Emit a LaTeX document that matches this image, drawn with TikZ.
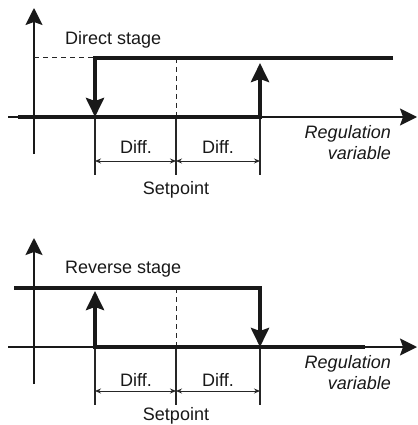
\documentclass[tikz,border=0pt]{standalone}
\usepackage{fontspec}
\setmainfont{Liberation Sans}
\usetikzlibrary{arrows.meta}
\tikzset{
  axisline/.style={line width=1.8pt, draw=black!90, -{Stealth[length=17pt,width=17pt,inset=3pt]}},
  heavy/.style={line width=4pt, draw=black!90, line join=miter},
  heavyarrow/.style={heavy, -{Stealth[length=19pt,width=18pt,inset=3pt]}},
  guide/.style={line width=1pt, draw=black!85, dash pattern=on 5pt off 4pt},
  thinline/.style={line width=1.2pt, draw=black!85},
  dimline/.style={line width=0.9pt, draw=black!85, {Stealth[length=6pt,width=5pt]}-{Stealth[length=6pt,width=5pt]}},
  lbl/.style={inner sep=0pt, font=\fontsize{18pt}{21pt}\selectfont, text=black!90},
  ilbl/.style={lbl, font=\fontsize{18pt}{21pt}\selectfont\itshape, align=right}
}
\begin{document}
\begin{tikzpicture}[x=1pt,y=-1pt]
\useasboundingbox (0,0) rectangle (417,425);
\fill[white] (0,0) rectangle (417,425);
% ---------- Top: direct stage ----------
\coordinate (tyb) at (34,154);
\coordinate (tyt) at (34,8);
\coordinate (txl) at (8,117);
\coordinate (txr) at (417,117);
\coordinate (th0) at (18,117);
\coordinate (tA) at (95,117);
\coordinate (tS) at (176,117);
\coordinate (tB) at (260,117);
\coordinate (tBu) at (260,63);
\coordinate (tAt) at (95,58);
\coordinate (tE) at (393,58);
\coordinate (tYh) at (34,58);
\coordinate (tSt) at (176,58);
\coordinate (tAd) at (95,175);
\coordinate (tSd) at (176,175);
\coordinate (tBd) at (260,175);
\coordinate (tAm) at (95,161);
\coordinate (tSm) at (176,161);
\coordinate (tBm) at (260,161);
\draw[axisline] (tyb) -- (tyt);
\draw[axisline] (txl) -- (txr);
\draw[guide] (tYh) -- (tAt);
\draw[guide] (tSt) -- (tS);
\draw[thinline] (tA) -- (tAd);
\draw[thinline] (tS) -- (tSd);
\draw[thinline] (tB) -- (tBd);
\draw[dimline] (tAm) -- (tSm);
\draw[dimline] (tSm) -- (tBm);
\draw[heavyarrow] (th0) -- (tB) -- (tBu);
\draw[heavyarrow] (tE) -- (tAt) -- (tA);
\node[lbl, anchor=west] (tlab) at (65,40) {Direct stage};
\node[lbl] (tdiff1) at (136,147) {Diff.};
\node[lbl] (tdiff2) at (218,147) {Diff.};
\node[lbl] (tset) at (176,190) {Setpoint};
\node[ilbl, anchor=north east] (treg) at (391,125) {Regulation\\variable};
% ---------- Bottom: reverse stage ----------
\coordinate (byb) at (34,384);
\coordinate (byt) at (34,238);
\coordinate (bxl) at (8,347);
\coordinate (bxr) at (417,347);
\coordinate (bh0) at (14,288);
\coordinate (bBt) at (260,288);
\coordinate (bB) at (260,347);
\coordinate (bA) at (95,347);
\coordinate (bAu) at (95,291);
\coordinate (bS) at (176,347);
\coordinate (bSt) at (176,288);
\coordinate (bE) at (365,347);
\coordinate (bAd) at (95,405);
\coordinate (bSd) at (176,405);
\coordinate (bBd) at (260,405);
\coordinate (bAm) at (95,391);
\coordinate (bSm) at (176,391);
\coordinate (bBm) at (260,391);
\draw[axisline] (byb) -- (byt);
\draw[axisline] (bxl) -- (bxr);
\draw[guide] (bSt) -- (bS);
\draw[thinline] (bA) -- (bAd);
\draw[thinline] (bS) -- (bSd);
\draw[thinline] (bB) -- (bBd);
\draw[dimline] (bAm) -- (bSm);
\draw[dimline] (bSm) -- (bBm);
\draw[heavyarrow] (bh0) -- (bBt) -- (bB);
\draw[heavyarrow] (bE) -- (bA) -- (bAu);
\node[lbl, anchor=west] (blab) at (65,269) {Reverse stage};
\node[lbl] (bdiff1) at (136,380) {Diff.};
\node[lbl] (bdiff2) at (218,380) {Diff.};
\node[lbl] (bset) at (176,416) {Setpoint};
\node[ilbl, anchor=north east] (breg) at (391,355) {Regulation\\variable};
\end{tikzpicture}
\end{document}
